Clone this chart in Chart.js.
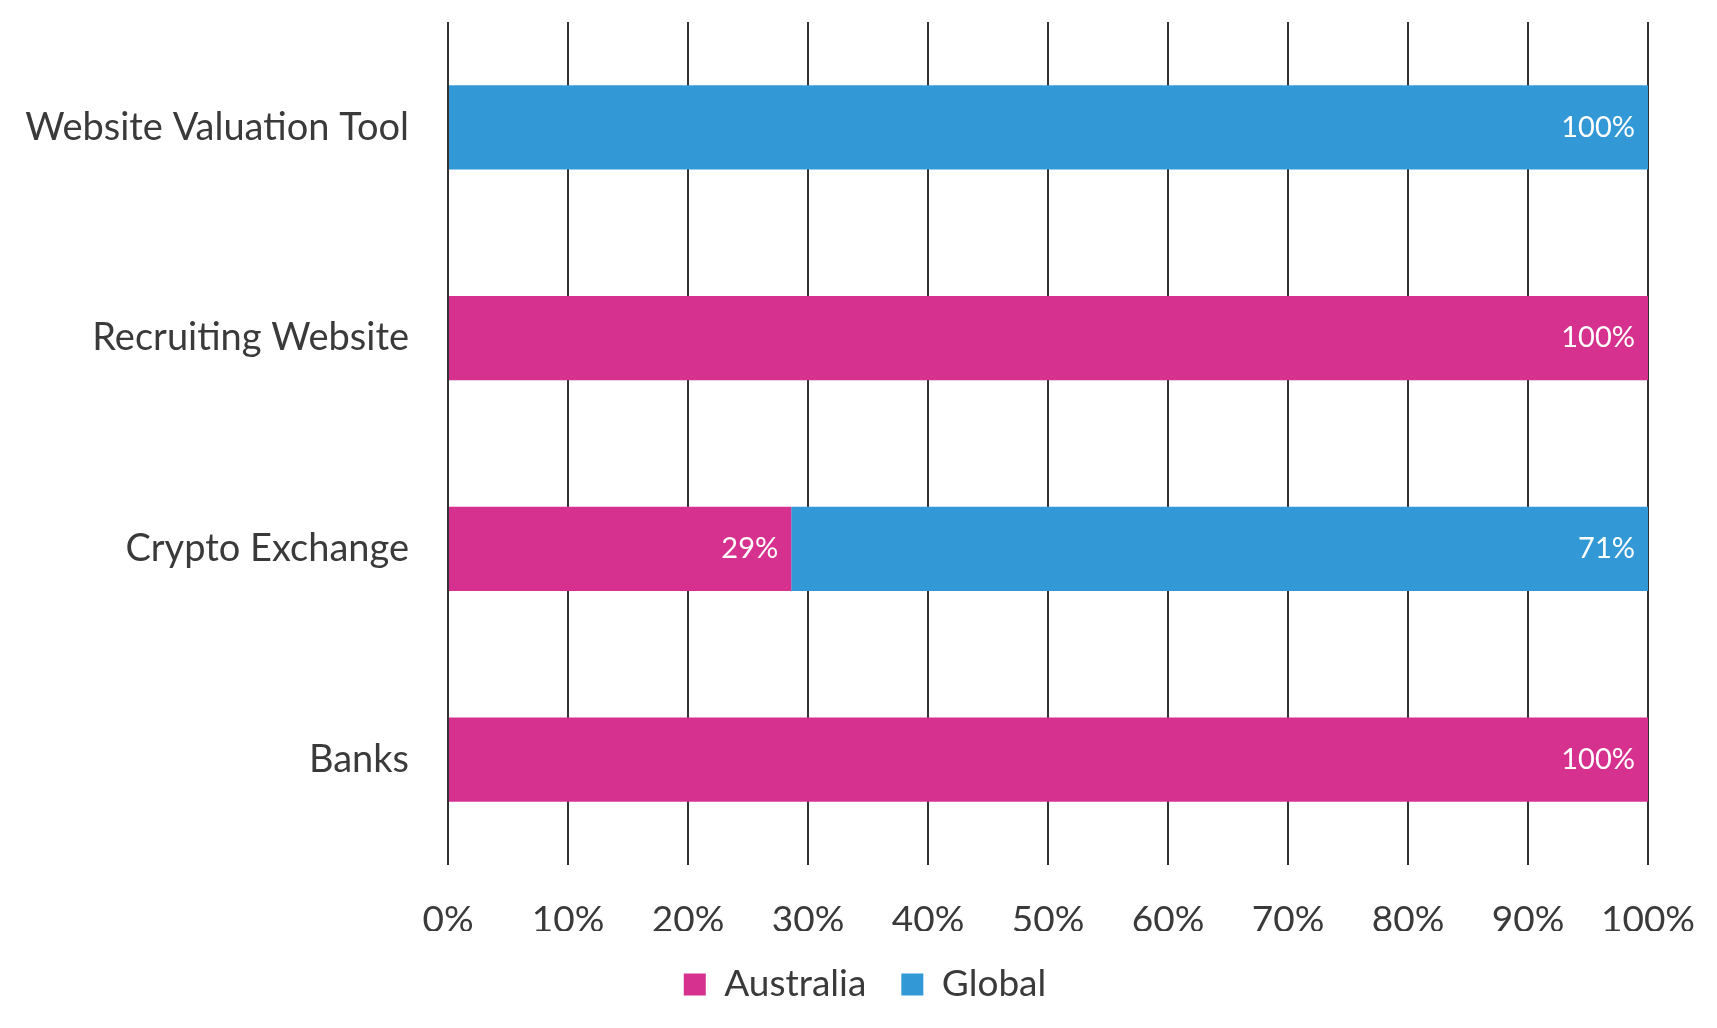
<!DOCTYPE html>
<html>
<head>
<meta charset="utf-8">
<script src="https://cdn.jsdelivr.net/npm/chart.js@4/dist/chart.umd.min.js"></script>
<style>
html,body{margin:0;padding:0;background:#fff;}
#wrap{width:1717px;height:1028px;position:relative;}
</style>
</head>
<body>
<div id="wrap"><canvas id="c"></canvas></div>
<script>
const categories = ["Website Valuation Tool", "Recruiting Website", "Crypto Exchange", "Banks"];
const australia = [0, 100, 28.6, 100];
const global = [100, 0, 71.4, 0];
const xTicks = [0, 10, 20, 30, 40, 50, 60, 70, 80, 90, 100];

const PINK = '#D6318F';
const BLUE = '#3399D6';
const TEXT = '#3a3a3a';
const FONT = 'Lato, "Open Sans", sans-serif';
const PAD_R = 69;

const barLabels = {
  id: 'barLabels',
  afterDatasetsDraw(chart) {
    const ctx = chart.ctx;
    ctx.save();
    ctx.font = '29px ' + FONT;
    ctx.fillStyle = '#ffffff';
    ctx.textAlign = 'right';
    ctx.textBaseline = 'middle';
    chart.data.datasets.forEach((ds, di) => {
      const meta = chart.getDatasetMeta(di);
      meta.data.forEach((el, i) => {
        const v = ds.data[i];
        if (!v) return;
        ctx.fillText(Math.round(v) + '%', el.x - 13, el.y);
      });
    });
    ctx.restore();
  }
};

const legendShift = {
  id: 'legendShift',
  afterLayout(chart) {
    if (chart.legend) { chart.legend.left += 41; chart.legend.right += 41; }
  }
};

new Chart(document.getElementById('c'), {
  type: 'bar',
  data: {
    labels: categories,
    datasets: [
      { label: 'Australia', data: australia, backgroundColor: PINK, borderWidth: 0 },
      { label: 'Global', data: global, backgroundColor: BLUE, borderWidth: 0 }
    ]
  },
  options: {
    indexAxis: 'y',
    responsive: true,
    maintainAspectRatio: false,
    animation: false,
    layout: { padding: { top: 22, right: PAD_R, left: 0, bottom: 15 } },
    datasets: { bar: { barPercentage: 0.4, categoryPercentage: 1.0 } },
    scales: {
      x: {
        stacked: true,
        min: 0, max: 100,
        afterBuildTicks(scale) { scale.ticks = xTicks.map(v => ({ value: v })); },
        afterFit(scale) { scale.height = 66; scale.paddingLeft = 0; scale.paddingRight = 0; },
        ticks: { callback: v => v + '%', font: { size: 37, family: FONT }, color: TEXT, padding: 33, maxRotation: 0 },
        grid: { color: '#333333', lineWidth: 2, drawTicks: false },
        border: { display: false }
      },
      y: {
        stacked: true,
        afterFit(scale) { scale.width = 448; scale.paddingTop = 0; scale.paddingBottom = 0; },
        ticks: { font: { size: 38, family: FONT }, color: TEXT, padding: 31 },
        grid: { display: false },
        border: { display: false }
      }
    },
    plugins: {
      tooltip: { enabled: false },
      legend: {
        position: 'bottom',
        labels: { boxWidth: 22, boxHeight: 22, padding: 35, color: TEXT, font: { size: 37, family: FONT } }
      }
    }
  },
  plugins: [barLabels, legendShift]
});
</script>
</body>
</html>
